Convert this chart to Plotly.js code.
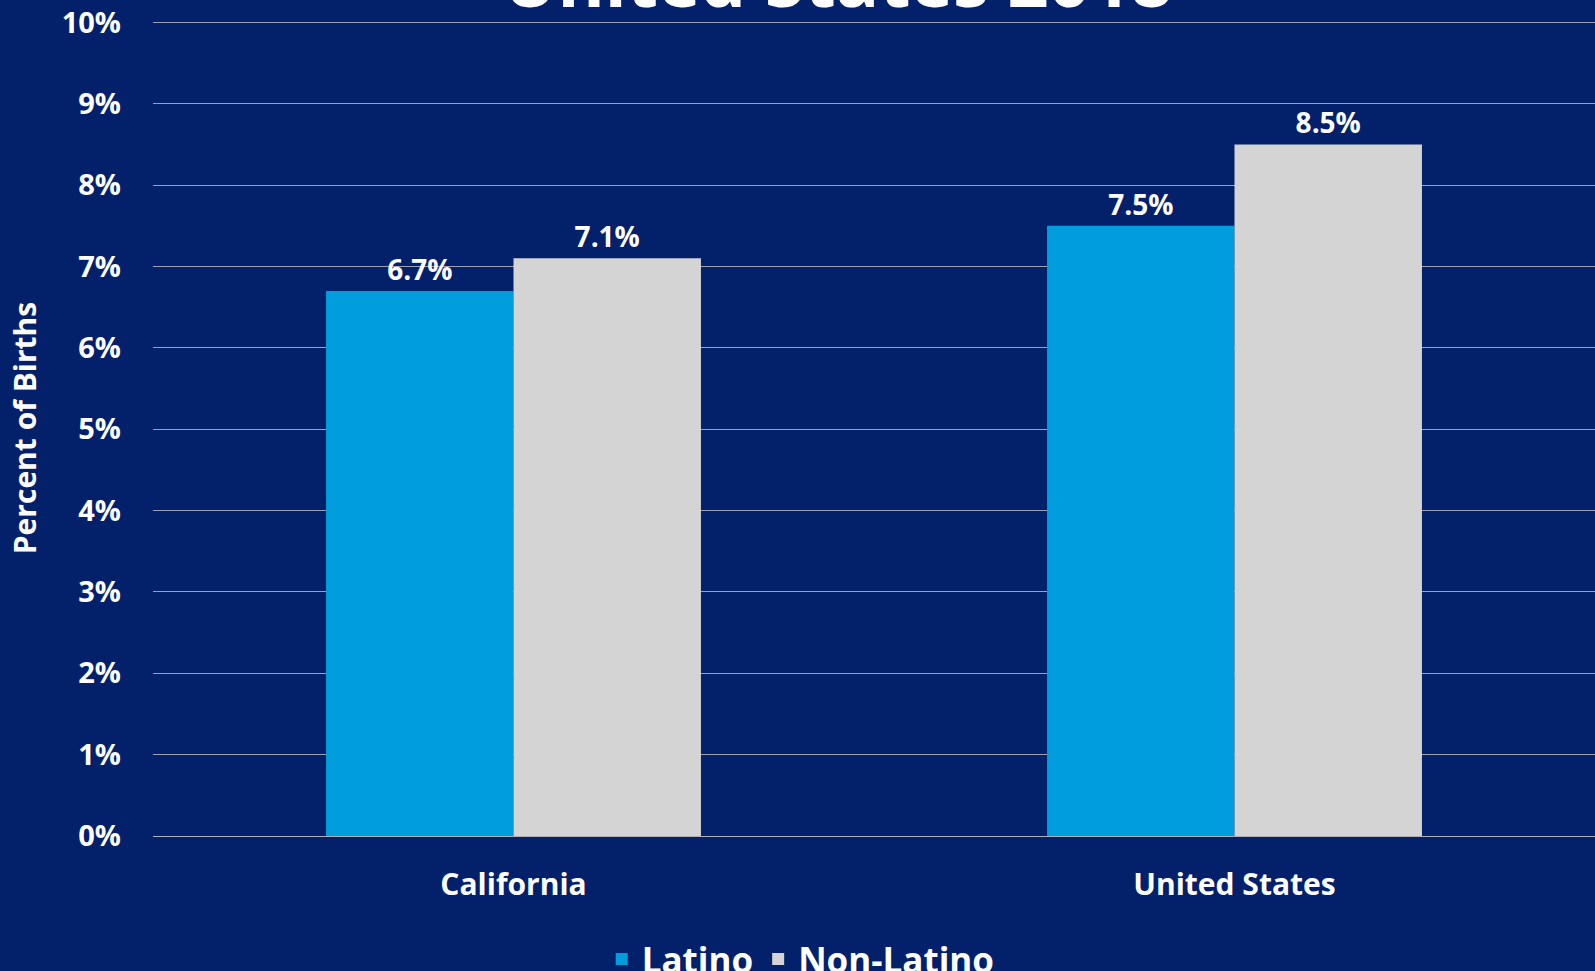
<!DOCTYPE html>
<html>
<head>
<meta charset="utf-8">
<script src="https://cdn.plot.ly/plotly-3.0.1.min.js"></script>
<style>
  html, body { margin: 0; padding: 0; background: #03206a; }
  #chart { width: 1595px; height: 971px; }
</style>
</head>
<body>
<div id="chart"></div>
<script>
const places = ['California', 'United States'];
const latino = [6.7, 7.5];
const nonLatino = [7.1, 8.5];
const seriesNames = ['Latino', 'Non-Latino'];

const navy = '#03206a';
const font = 'Open Sans, DejaVu Sans, sans-serif';

function barTrace(name, values, color) {
  return {
    type: 'bar',
    name: name,
    x: places,
    y: values,
    marker: {color: color},
    text: values.map((v) => v.toFixed(1) + '%'),
    textposition: 'outside',
    cliponaxis: false,
    textfont: {family: font, size: 28, color: '#ffffff', weight: 700},
    hoverinfo: 'skip',
  };
}

const data = [
  barTrace(seriesNames[0], latino, '#009ddc'),
  barTrace(seriesNames[1], nonLatino, '#d4d4d4'),
];

// the top of the range is a hair above 10% so the 10% gridline is still drawn
const layout = {
  width: 1595,
  height: 971,
  paper_bgcolor: navy,
  plot_bgcolor: navy,
  font: {family: font, color: '#ffffff', weight: 700},
  margin: {l: 153, r: 0, t: 20, b: 135},
  barmode: 'group',
  bargap: 0.48,
  bargroupgap: 0,
  showlegend: true,
  legend: {
    orientation: 'h',
    xref: 'container',
    yref: 'container',
    x: 0.502,
    xanchor: 'center',
    y: 0.012,
    yanchor: 'middle',
    font: {family: font, size: 35, color: '#ffffff', weight: 700},
    bgcolor: 'rgba(0,0,0,0)',
  },
  xaxis: {
    showgrid: false,
    showline: false,
    ticks: '',
    ticklabelstandoff: 28,
    tickfont: {family: font, size: 30, color: '#ffffff', weight: 700},
  },
  yaxis: {
    range: [0, 10.03],
    tick0: 0,
    dtick: 1,
    ticksuffix: '%',
    showgrid: true,
    gridcolor: '#a0a0ac',
    gridwidth: 1,
    zeroline: true,
    zerolinecolor: '#b0b0b8',
    zerolinewidth: 1,
    ticklabelstandoff: 31,
    tickfont: {family: font, size: 29, color: '#ffffff', weight: 700},
    title: {
      text: 'Percent of Births',
      standoff: 16,
      font: {family: font, size: 30, color: '#ffffff', weight: 700},
    },
  },
  annotations: [
    {
      text: 'United States 2018',
      xref: 'paper',
      yref: 'paper',
      x: 0.475,
      y: 1,
      xanchor: 'center',
      yanchor: 'bottom',
      yshift: -10,
      showarrow: false,
      font: {family: font, size: 72, color: '#ffffff', weight: 700},
    },
  ],
};

Plotly.newPlot('chart', data, layout, {displayModeBar: false, responsive: false});
</script>
</body>
</html>
